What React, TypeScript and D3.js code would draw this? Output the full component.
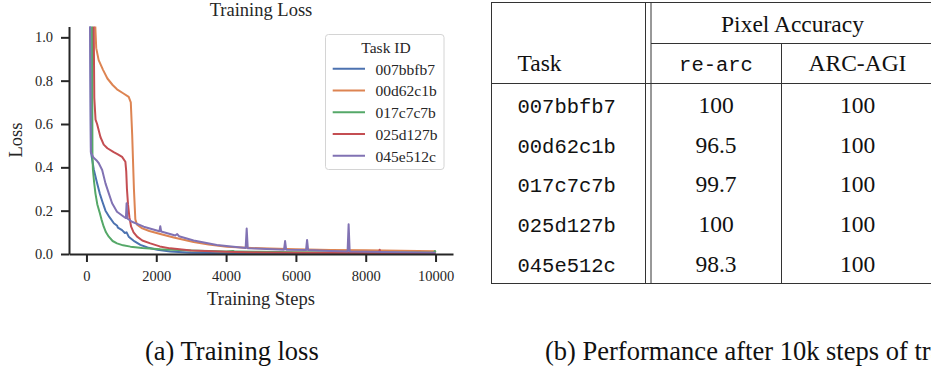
import React, { useEffect, useRef } from 'react';
import * as d3 from 'd3';

// task ids, shared by the loss legend and the table
const taskIds = ['007bbfb7', '00d62c1b', '017c7c7b', '025d127b', '045e512c'];

// training loss, [step, loss]
const loss007bbfb7 = [
  [0, 2.4], [110, 1.1], [130, 0.47], [210, 0.39], [300, 0.33], [380, 0.28], [460, 0.24],
  [545, 0.2], [660, 0.17], [785, 0.142], [880, 0.13], [900, 0.122], [1020, 0.11],
  [1100, 0.097], [1150, 0.1], [1210, 0.08], [1380, 0.058], [1545, 0.042], [1750, 0.03],
  [2030, 0.02], [2400, 0.012], [3000, 0.006], [4000, 0.004], [6000, 0.003], [8000, 0.002],
  [10000, 0.002],
];
const loss00d62c1b = [
  [0, 3.0], [240, 1.1], [280, 0.95], [350, 0.895], [475, 0.85], [600, 0.81], [750, 0.78],
  [875, 0.76], [1050, 0.742], [1210, 0.725], [1270, 0.7], [1310, 0.55], [1360, 0.3],
  [1400, 0.16], [1450, 0.135], [1600, 0.118], [1800, 0.106], [2115, 0.092], [2500, 0.076],
  [3070, 0.055], [3500, 0.044], [4020, 0.034], [4600, 0.029], [5000, 0.026], [6000, 0.022],
  [7000, 0.019], [8000, 0.017], [9000, 0.015], [10000, 0.013],
];
const loss017c7c7b = [
  [0, 2.5], [160, 1.1], [172, 0.45], [185, 0.39], [220, 0.33], [257, 0.28], [310, 0.23],
  [380, 0.19], [430, 0.16], [495, 0.126], [560, 0.1], [640, 0.08], [750, 0.06], [875, 0.049],
  [1050, 0.04], [1260, 0.034], [1600, 0.028], [2115, 0.022], [3000, 0.016], [4000, 0.012],
  [4200, 0.014], [4250, 0.011], [5000, 0.01], [6000, 0.008], [8000, 0.007], [9950, 0.006],
  [9980, 0.014], [10000, 0.007],
];
const loss025d127b = [
  [0, 2.8], [200, 1.2], [225, 0.72], [260, 0.62], [305, 0.6], [400, 0.54], [495, 0.505],
  [600, 0.488], [780, 0.47], [900, 0.46], [1020, 0.448], [1115, 0.426], [1140, 0.38],
  [1160, 0.3], [1190, 0.23], [1230, 0.17], [1280, 0.126], [1350, 0.1], [1450, 0.08],
  [1600, 0.062], [1830, 0.049], [2100, 0.035], [2400, 0.026], [3000, 0.016], [4000, 0.01],
  [5000, 0.007], [6000, 0.006], [8380, 0.005], [8400, 0.02], [8420, 0.005], [10000, 0.004],
];
const loss045e512c = [
  [0, 2.5], [100, 1.1], [125, 0.47], [200, 0.445], [300, 0.43], [350, 0.42], [450, 0.388],
  [545, 0.326], [640, 0.28], [735, 0.234], [875, 0.195], [1070, 0.172], [1130, 0.166],
  [1150, 0.234], [1170, 0.164], [1305, 0.149], [1640, 0.126], [2090, 0.105], [2115, 0.128],
  [2140, 0.104], [2545, 0.085], [2600, 0.092], [2650, 0.082], [3070, 0.062], [3735, 0.042],
  [4560, 0.028], [4590, 0.118], [4620, 0.027], [5000, 0.024], [5660, 0.02], [5690, 0.06],
  [5720, 0.02], [6290, 0.018], [6320, 0.065], [6350, 0.018], [7000, 0.014], [7480, 0.012],
  [7510, 0.137], [7540, 0.012], [8000, 0.01], [9000, 0.008], [10000, 0.006],
];
const lossSeries = [loss007bbfb7, loss00d62c1b, loss017c7c7b, loss025d127b, loss045e512c];

const xTicks = [0, 2000, 4000, 6000, 8000, 10000];
const yTicks = [0, 0.2, 0.4, 0.6, 0.8, 1.0];

// pixel accuracy table
const reArcAcc = ['100', '96.5', '99.7', '100', '98.3'];
const arcAgiAcc = ['100', '100', '100', '100', '100'];

const palette = ['#4c72b0', '#dd8452', '#55a868', '#c44e52', '#8172b3'];
const serif = '"Liberation Serif", "Times New Roman", serif';
const mono = '"Liberation Mono", "Courier New", monospace';
const ink = '#262626';

const App = () => {
  const svgRef = useRef(null);

  useEffect(() => {
    const svg = d3.select(svgRef.current);
    svg.selectAll('*').remove();

    const x = d3.scaleLinear().domain([-500, 10500]).range([69, 453]);
    const y = d3.scaleLinear().domain([0, 1.05]).range([254, 26.5]);

    svg
      .append('defs')
      .append('clipPath')
      .attr('id', 'plot-clip')
      .append('rect')
      .attr('x', x(-500))
      .attr('y', y(1.05))
      .attr('width', x(10500) - x(-500))
      .attr('height', y(0) - y(1.05));

    // loss lines
    const line = d3
      .line()
      .x((d) => x(d[0]))
      .y((d) => y(d[1]));

    const lines = svg.append('g').attr('clip-path', 'url(#plot-clip)');
    lossSeries.forEach((s, i) => {
      lines
        .append('path')
        .attr('d', line(s))
        .attr('fill', 'none')
        .attr('stroke', palette[i])
        .attr('stroke-width', 2)
        .attr('stroke-linejoin', 'round');
    });

    // axes
    const xAxis = d3
      .axisBottom(x)
      .tickValues(xTicks)
      .tickFormat(d3.format('d'))
      .tickSize(8)
      .tickSizeOuter(0)
      .tickPadding(9);
    const yAxis = d3
      .axisLeft(y)
      .tickValues(yTicks)
      .tickFormat(d3.format('.1f'))
      .tickSize(8)
      .tickSizeOuter(0)
      .tickPadding(8);

    const gx = svg.append('g').attr('transform', `translate(0, ${y(0)})`).call(xAxis);
    const gy = svg.append('g').attr('transform', `translate(${x(-500)}, 0)`).call(yAxis);
    [gx, gy].forEach((g) => {
      g.selectAll('path, line').attr('stroke', ink).attr('stroke-width', 2);
      g.selectAll('text')
        .attr('fill', ink)
        .style('font-family', serif)
        .style('font-size', '14.5px');
    });

    svg
      .append('text')
      .attr('x', 261)
      .attr('y', 16)
      .attr('text-anchor', 'middle')
      .attr('fill', ink)
      .style('font-family', serif)
      .style('font-size', '18.5px')
      .text('Training Loss');

    svg
      .append('text')
      .attr('x', 261)
      .attr('y', 305)
      .attr('text-anchor', 'middle')
      .attr('fill', ink)
      .style('font-family', serif)
      .style('font-size', '18.5px')
      .text('Training Steps');

    svg
      .append('text')
      .attr('transform', 'translate(22, 140) rotate(-90)')
      .attr('text-anchor', 'middle')
      .attr('fill', ink)
      .style('font-family', serif)
      .style('font-size', '18.5px')
      .text('Loss');

    // legend
    const legend = svg.append('g');
    legend
      .append('rect')
      .attr('x', 325.5)
      .attr('y', 34.5)
      .attr('width', 118.5)
      .attr('height', 135)
      .attr('rx', 3)
      .attr('fill', 'white')
      .attr('fill-opacity', 0.8)
      .attr('stroke', '#d4d4d4');
    legend
      .append('text')
      .attr('x', 386)
      .attr('y', 53)
      .attr('text-anchor', 'middle')
      .attr('fill', ink)
      .style('font-family', serif)
      .style('font-size', '15.5px')
      .text('Task ID');

    const ly = d3.scalePoint().domain(taskIds).range([68.7, 155.7]);
    taskIds.forEach((t, i) => {
      legend
        .append('line')
        .attr('x1', 332.7)
        .attr('x2', 365)
        .attr('y1', ly(t))
        .attr('y2', ly(t))
        .attr('stroke', palette[i])
        .attr('stroke-width', 2);
      legend
        .append('text')
        .attr('x', 375.5)
        .attr('y', ly(t) + 5.8)
        .attr('fill', ink)
        .style('font-family', serif)
        .style('font-size', '15.5px')
        .text(t);
    });

    // table
    const tbl = svg.append('g').attr('stroke', '#333').attr('stroke-width', 1);
    const rule = (x1, y1, x2, y2) =>
      tbl.append('line').attr('x1', x1).attr('y1', y1).attr('x2', x2).attr('y2', y2);
    rule(491, 2.5, 931, 2.5);
    rule(491.5, 2, 491.5, 283.5);
    rule(645.5, 2, 645.5, 283.5);
    rule(651, 2, 651, 283.5);
    rule(651, 43.5, 931, 43.5);
    rule(781.5, 43.5, 781.5, 283.5);
    rule(491, 83.5, 931, 83.5);
    rule(491, 283.5, 931, 283.5);

    const cell = (tx, ty, txt, anchor, font, size) =>
      svg
        .append('text')
        .attr('x', tx)
        .attr('y', ty)
        .attr('text-anchor', anchor)
        .attr('fill', '#111')
        .style('font-family', font)
        .style('font-size', size)
        .text(txt);

    cell(792.5, 31.5, 'Pixel Accuracy', 'middle', serif, '23.5px');
    cell(517.5, 71, 'Task', 'start', serif, '23.5px');
    cell(716, 71, 're-arc', 'middle', mono, '20.5px');
    cell(857.5, 71, 'ARC-AGI', 'middle', serif, '23.5px');

    const rowY = d3.scalePoint().domain(taskIds).range([113, 271.5]);
    taskIds.forEach((t, i) => {
      cell(517.5, rowY(t), t, 'start', mono, '20.5px');
      cell(716, rowY(t), reArcAcc[i], 'middle', serif, '23.5px');
      cell(857.5, rowY(t), arcAgiAcc[i], 'middle', serif, '23.5px');
    });

    // captions (the second one runs past the right edge, as in the source figure)
    cell(145, 360, '(a) Training loss', 'start', serif, '26.5px');
    cell(545, 360, '(b) Performance after 10k steps of training', 'start', serif, '26.5px');
  }, []);

  return (
    <svg
      ref={svgRef}
      width={931}
      height={370}
      style={{ position: 'absolute', left: 0, top: 0, background: 'white' }}
    />
  );
};

export default App;
